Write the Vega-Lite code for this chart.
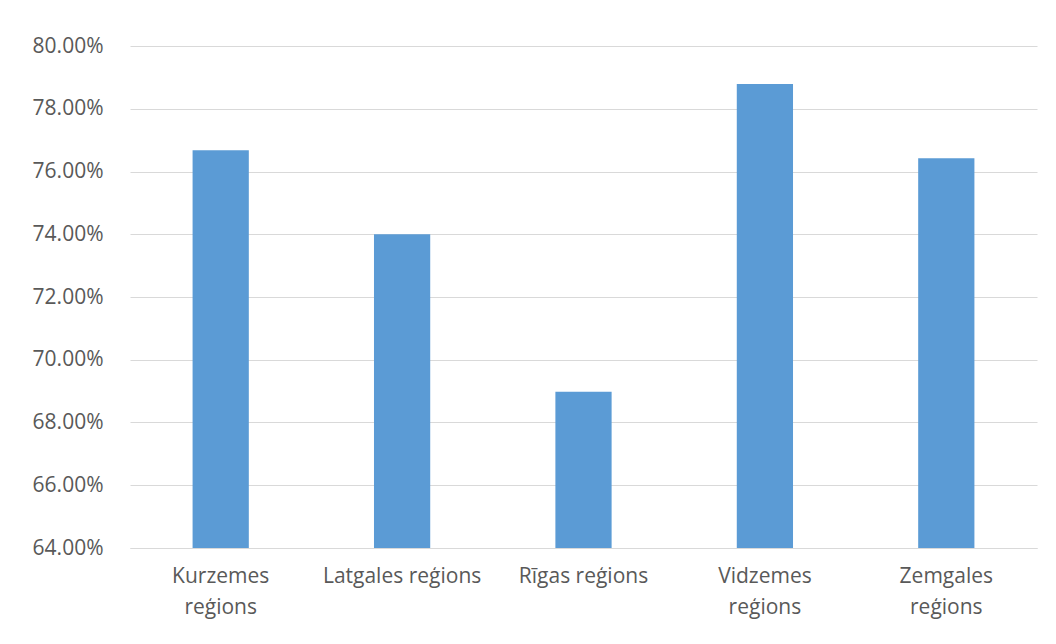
{
  "$schema": "https://vega.github.io/schema/vega-lite/v6.json",
  "width": 907,
  "height": 502,
  "autosize": {"type": "none"},
  "padding": {"left": 130, "top": 46, "right": 19, "bottom": 96},
  "background": "white",
  "data": {
    "values": [
      {"region": "Kurzemes reģions", "share": 0.7668},
      {"region": "Latgales reģions", "share": 0.7400},
      {"region": "Rīgas reģions", "share": 0.6898},
      {"region": "Vidzemes reģions", "share": 0.7879},
      {"region": "Zemgales reģions", "share": 0.7642}
    ]
  },
  "mark": {"type": "bar", "color": "#5b9bd5", "clip": true},
  "encoding": {
    "x": {
      "field": "region",
      "type": "nominal",
      "sort": null,
      "title": null,
      "scale": {"paddingInner": 0.69, "paddingOuter": 0.345},
      "axis": {
        "labelAngle": 0,
        "labelFont": "Open Sans",
        "labelFontSize": 21,
        "labelColor": "#595959",
        "labelPadding": 17,
        "labelLineHeight": 31,
        "labelBaseline": "top",
        "ticks": false,
        "domainColor": "#d9d9d9",
        "domainWidth": 1,
        "labelExpr": "datum.value == 'Latgales reģions' || datum.value == 'Rīgas reģions' ? datum.value : split(datum.value, ' ')"
      }
    },
    "y": {
      "field": "share",
      "type": "quantitative",
      "title": null,
      "scale": {"domain": [0.64, 0.80], "zero": false, "nice": false},
      "axis": {
        "values": [0.64, 0.66, 0.68, 0.70, 0.72, 0.74, 0.76, 0.78, 0.80],
        "format": ".2%",
        "labelFont": "Open Sans",
        "labelFontSize": 21,
        "labelColor": "#595959",
        "labelPadding": 27,
        "ticks": false,
        "domain": false,
        "grid": true,
        "gridColor": "#d9d9d9",
        "gridWidth": 1
      }
    }
  },
  "config": {
    "view": {"stroke": null}
  }
}
